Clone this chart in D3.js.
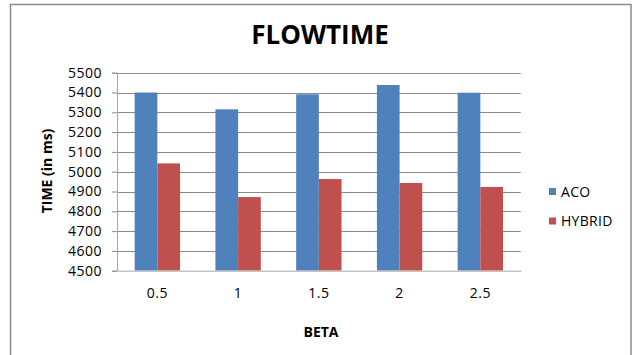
<!DOCTYPE html>
<html>
<head>
<meta charset="utf-8">
<script src="https://cdn.jsdelivr.net/npm/d3@7"></script>
<style>
  html, body { margin: 0; padding: 0; background: #fff; }
  svg { display: block; }
  text { font-family: "Open Sans", "Liberation Sans", sans-serif; fill: #000; }
</style>
</head>
<body>
<svg id="chart" width="634" height="355"></svg>
<script>
const categories = ["0.5", "1", "1.5", "2", "2.5"];
const seriesNames = ["ACO", "HYBRID"];
const acoValues = [5400, 5315, 5391, 5438, 5399];
const hybridValues = [5042, 4872, 4963, 4943, 4923];
const yTicks = [4500, 4600, 4700, 4800, 4900, 5000, 5100, 5200, 5300, 5400, 5500];
const colors = ["#4F81BD", "#C0504D"];
const titleText = "FLOWTIME";
const xTitle = "BETA";
const yTitle = "TIME (in ms)";

const svg = d3.select("#chart");
const W = 634, H = 355;

// outer border
svg.append("rect").attr("x", 10.5).attr("y", 4.5).attr("width", 620.5).attr("height", H)
  .attr("fill", "#fff").attr("stroke", "#8c8c8c").attr("stroke-width", 1.5);

const plot = { left: 117, right: 520.7, top: 72.7, bottom: 270.7 };

const x0 = d3.scaleBand().domain(categories).range([plot.left, plot.right]).padding(0);
const x1 = d3.scaleBand().domain(seriesNames).range([0, x0.bandwidth()]).paddingInner(0).paddingOuter(0.78);
const y = d3.scaleLinear().domain([4500, 5500]).range([plot.bottom, plot.top]);

// gridlines
svg.append("g").selectAll("line").data(yTicks.slice(1)).join("line")
  .attr("x1", plot.left).attr("x2", plot.right)
  .attr("y1", d => Math.round(y(d)) + 0.5).attr("y2", d => Math.round(y(d)) + 0.5)
  .attr("stroke", "#8a8a8a").attr("stroke-width", 1);

// y axis
const yAxis = d3.axisLeft(y).tickValues(yTicks).tickSize(5).tickPadding(10).tickFormat(d3.format("d"));
const gy = svg.append("g").attr("transform", `translate(${plot.left},0)`).call(yAxis);
gy.select(".domain").attr("stroke", "#a6a6a6");
gy.selectAll(".tick line").attr("stroke", "#8a8a8a");
gy.selectAll(".tick text").attr("font-size", 14).attr("letter-spacing", "0.5px")
  .attr("font-family", "'Open Sans', sans-serif").attr("fill", "#000");

// bars
const data = categories.map((c, i) => ({ cat: c, vals: [acoValues[i], hybridValues[i]] }));
const groups = svg.append("g").selectAll("g").data(data).join("g")
  .attr("transform", d => `translate(${x0(d.cat)},0)`);
groups.selectAll("rect").data(d => d.vals.map((v, j) => ({ s: seriesNames[j], v, j })))
  .join("rect")
  .attr("x", d => x1(d.s))
  .attr("width", x1.bandwidth())
  .attr("y", d => y(d.v))
  .attr("height", d => plot.bottom - y(d.v))
  .attr("fill", d => colors[d.j]);

// x axis
const xAxis = d3.axisBottom(x0).tickSize(0).tickPadding(17);
const gx = svg.append("g").attr("transform", `translate(0,${plot.bottom})`).call(xAxis);
gx.select(".domain").attr("stroke", "#c4c4c4").attr("stroke-width", 1.5);
gx.selectAll(".tick text").attr("font-size", 14).attr("letter-spacing", "0.5px")
  .attr("font-family", "'Open Sans', sans-serif").attr("fill", "#000");

// title
svg.append("text").attr("x", 320).attr("y", 44.3).attr("text-anchor", "middle")
  .attr("font-size", 26).attr("font-weight", "bold").text(titleText);

// axis titles
svg.append("text").attr("x", 321).attr("y", 337).attr("text-anchor", "middle")
  .attr("font-size", 14).attr("font-weight", "bold").text(xTitle);
svg.append("text").attr("transform", "translate(52,171) rotate(-90)").attr("text-anchor", "middle")
  .attr("font-size", 14).attr("font-weight", "bold").text(yTitle);

// legend
const legend = svg.append("g").selectAll("g").data(seriesNames).join("g")
  .attr("transform", (d, i) => `translate(549,${188 + i * 29.5})`);
legend.append("rect").attr("width", 7).attr("height", 7).attr("fill", (d, i) => colors[i]);
legend.append("text").attr("x", 12).attr("y", 8.5).attr("font-size", 14)
  .attr("letter-spacing", "0.3px").text(d => d);
</script>
</body>
</html>
